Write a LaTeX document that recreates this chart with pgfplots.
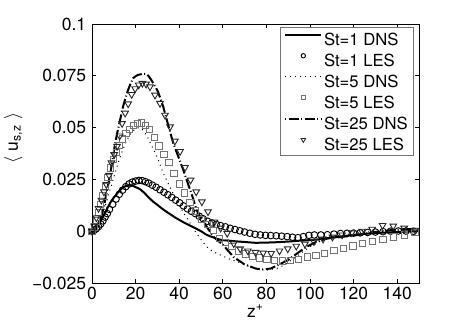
\documentclass[border=0pt]{standalone}
\usepackage{fontspec}
\setmainfont{TeX Gyre Heros}
\usepackage{pgfplots}
\pgfplotsset{compat=1.18}

\begin{document}
\begin{tikzpicture}
\useasboundingbox (-55.2pt,-26.4pt) rectangle (222.6pt,169.8pt);
\begin{axis}[
    scale only axis,
    width=196.2pt, height=155.4pt,
    xmin=0, xmax=150, ymin=-0.025, ymax=0.1,
    xtick={0,20,...,140},
    ytick={-0.025,0,0.025,0.05,0.075,0.1},
    yticklabels={−0.025,0,0.025,0.05,0.075,0.1},
    /pgf/number format/assume math mode=true,
    tick align=inside,
    major tick length=2.4pt,
    tick style={line width=0.4pt, black},
    axis line style={line width=0.5pt},
    ticklabel style={font=\fontsize{10.5}{12}\selectfont},
    xticklabel style={yshift=1pt},
    xlabel={z\textsuperscript{+}},
    xlabel style={font=\fontsize{10.5}{12}\selectfont, yshift=4pt},
    ylabel={$\langle$\ u\textsubscript{s,z}\ $\rangle$},
    every axis y label/.style={at={(ticklabel cs:0.56)}, rotate=90, anchor=south,
        font=\fontsize{10.5}{12}\selectfont, yshift=-1pt},
    legend cell align=left,
    legend style={at={(1,1)}, anchor=north east, xshift=-3pt, yshift=-2pt,
        draw=black!55, line width=0.5pt,
        font=\fontsize{10}{12}\selectfont,
        inner xsep=2.5pt, inner ysep=2.2pt,
        row sep=3.4pt,
        nodes={inner xsep=1pt, inner ysep=1pt, text height=7.2pt, text depth=0pt}},
]
% St=1 DNS
\addplot[black, line width=1.2pt, no markers,
    legend image code/.code={\draw[black,line width=1.2pt] (0pt,2.6pt) -- (21.6pt,2.6pt);}]
coordinates {
(0,0) (1,0.0003) (2,0.001) (3,0.0028) (4,0.005) (5,0.0068) (6,0.0088) (7,0.011)
(8,0.013) (9,0.0148) (10,0.0162) (11,0.0175) (12,0.0188) (13,0.02) (14,0.021)
(15,0.0216) (16,0.022) (17,0.0222) (18,0.0221) (19,0.0218) (20,0.0213) (22,0.0203)
(24,0.0185) (26,0.0163) (28,0.0143) (30,0.0127) (32,0.011) (34,0.0095) (36,0.0081)
(38,0.0067) (40,0.0055) (42,0.0043) (44,0.0032) (46,0.0022) (48,0.0011) (50,0)
(52,-0.0014) (54,-0.0024) (56,-0.0031) (58,-0.0039) (60,-0.0043) (63,-0.0046)
(66,-0.0049) (70,-0.0052) (75,-0.0056) (80,-0.0055) (85,-0.0053) (90,-0.005)
(95,-0.0046) (100,-0.0043) (105,-0.0038) (110,-0.0031) (115,-0.0025) (120,-0.0018)
(125,-0.0013) (130,-0.0009) (135,-0.0006) (140,-0.0004) (145,-0.0001) (150,0)
};
\addlegendentry{St=1 DNS}
% St=1 LES
\addplot[black, only marks, mark=o, mark size=2pt, mark options={line width=0.55pt},
    legend image code/.code={\draw[black,line width=0.5pt] plot[mark=o, mark size=1.3pt] coordinates {(10.8pt,2.6pt)};}]
coordinates {
(0,0) (1,0.0005) (2,0.0012) (3,0.0022) (4,0.0035) (5,0.005) (6,0.0068) (7,0.0085)
(8,0.0105) (9.5,0.013) (11,0.0155) (12.5,0.0178) (14,0.0198) (15.5,0.0215)
(17,0.0228) (18.5,0.0237) (20,0.0242) (21.5,0.0245) (23,0.0244) (24.5,0.0239)
(26,0.0232) (27.7,0.0222) (29.4,0.0212) (31.2,0.02) (33,0.0188) (34.8,0.0176)
(36.6,0.0163) (38.4,0.015) (40.2,0.0137) (42,0.0122) (43.8,0.0108) (45.6,0.0096)
(47.4,0.0085) (49.2,0.0072) (51,0.006) (53,0.0048) (55,0.004) (57,0.0033)
(59,0.0027) (61.2,0.0021) (63.4,0.0014) (65.6,0.0008) (67.8,0.0002) (70,-0.0004)
(72.4,-0.001) (74.8,-0.0015) (77.2,-0.0018) (79.6,-0.002) (82,-0.0021) (84.5,-0.0022)
(87,-0.0024) (89.5,-0.0026) (92,-0.0029) (94.5,-0.0031) (97,-0.0026) (99.5,-0.002)
(102,-0.0018) (105,-0.0018) (108,-0.0017) (111,-0.0014) (114,-0.0011) (117,-0.001)
(120,-0.0009) (123,-0.0008) (126.5,-0.0006) (130,-0.0004) (133.5,-0.0002)
(137,0) (140.5,0.0001) (144,0.0001) (147.5,0)
};
\addlegendentry{St=1 LES}
% St=5 DNS
\addplot[black, line width=0.6pt, dash pattern=on 0.6pt off 2.4pt, no markers,
    legend image code/.code={\draw[black,line width=0.6pt,dash pattern=on 0.6pt off 2.4pt] (0pt,2.6pt) -- (21.6pt,2.6pt);}]
coordinates {
(0,0) (2,0.002) (4,0.006) (6,0.012) (8,0.019) (10,0.026) (12,0.033) (14,0.039)
(16,0.044) (18,0.0475) (20,0.0495) (21.5,0.05) (23,0.0492) (25,0.0465) (27.5,0.041)
(30,0.0355) (32.7,0.028) (35,0.023) (37.5,0.0175) (40.4,0.0118) (42.5,0.008)
(44.2,0.0054) (46,0.002) (48,-0.001) (50,-0.004) (52.6,-0.0075) (55,-0.0095)
(57.2,-0.0107) (60,-0.012) (63.3,-0.0135) (66,-0.0145) (70,-0.0162) (75,-0.018)
(80,-0.0188) (84.7,-0.018) (88,-0.0165) (92,-0.0135) (96,-0.0105) (100,-0.0075)
(105,-0.0048) (110,-0.003) (115,-0.002) (120,-0.001) (130,0) (140,0.0005) (150,0)
};
\addlegendentry{St=5 DNS}
% St=5 LES
\addplot[black!55, only marks, mark=square, mark size=1.9pt, mark options={line width=0.6pt},
    legend image code/.code={\draw[black!55,line width=0.5pt] plot[mark=square, mark size=1.2pt] coordinates {(10.8pt,2.6pt)};}]
coordinates {
(0,0) (1,0.002) (2,0.005) (3,0.009) (4,0.013) (5,0.017) (6.2,0.0215) (7.4,0.026)
(8.6,0.0305) (9.8,0.0345) (11.2,0.038) (12.6,0.0415) (14,0.0445) (15.6,0.047)
(17.3,0.0492) (19,0.051) (20.8,0.052) (22.6,0.0522) (24.5,0.051) (26.5,0.049)
(28.6,0.0452) (30.8,0.0412) (33,0.037) (35.3,0.033) (37.6,0.0278) (40,0.0228)
(42.5,0.0185) (45,0.014) (47.6,0.0098) (50.2,0.0058) (52.9,0.0032) (55.6,0.0005)
(58.4,-0.0035) (61.2,-0.0055) (64.2,-0.0075) (67.2,-0.0095) (70.3,-0.011)
(73.5,-0.0122) (76.8,-0.013) (80.2,-0.0137) (83.7,-0.0142) (87.3,-0.0144)
(91,-0.014) (94.8,-0.0136) (98.7,-0.0125) (102.7,-0.0116) (106.8,-0.0107)
(111,-0.0094) (115.3,-0.0085) (119.7,-0.0072) (124.2,-0.006) (128.8,-0.005)
(133.5,-0.004) (138.3,-0.0028) (143.2,-0.0018) (148.2,-0.0006)
};
\addlegendentry{St=5 LES}
% St=25 DNS
\addplot[black, line width=1.2pt, dash pattern=on 6pt off 1.5pt on 0.6pt off 1.5pt, no markers,
    legend image code/.code={\draw[black,line width=1.2pt,dash pattern=on 0.6pt off 1.5pt on 6pt off 1.5pt] (0pt,2.6pt) -- (21.6pt,2.6pt);}]
coordinates {
(0,0) (1.2,0.0006) (2.5,0.003) (4.3,0.007) (5.5,0.012) (6.6,0.018) (7.8,0.0245)
(8.9,0.031) (10.4,0.041) (11.5,0.047) (12.7,0.0528) (14.2,0.06) (15.3,0.064)
(16.5,0.068) (17.6,0.071) (18.8,0.0738) (20,0.0748) (21,0.0754) (22.2,0.0757)
(23.4,0.0759) (24.9,0.0759) (26,0.0748) (27.2,0.073) (28.7,0.0703) (30.3,0.0673)
(32.7,0.06) (35,0.051) (37.3,0.0424) (39.6,0.036) (41.9,0.0295) (44,0.023)
(46,0.017) (48,0.0102) (50,0.0062) (52.6,0.0022) (56,-0.003) (60,-0.0065)
(65,-0.0125) (70,-0.016) (75,-0.018) (78,-0.0185) (82,-0.018) (86,-0.016)
(90,-0.0138) (94,-0.0108) (98,-0.0078) (103,-0.005) (108,-0.0035) (115,-0.0027)
(122,-0.0018) (132,0) (140,0.0008) (147,0.001) (150,0.0008)
};
\addlegendentry{St=25 DNS}
% St=25 LES
\addplot[black!85, only marks, mark=triangle, mark size=2.3pt, mark options={rotate=180, line width=0.55pt},
    legend image code/.code={\draw[black!85,line width=0.5pt] plot[mark=triangle, mark size=1.6pt, mark options={rotate=180}] coordinates {(10.8pt,2.6pt)};}]
coordinates {
(0,0) (1,0.0025) (2,0.0065) (3,0.011) (4.3,0.015) (5.5,0.019) (6.6,0.0225)
(7.8,0.027) (8.9,0.033) (10.2,0.037) (11.5,0.041) (12.7,0.046) (13.8,0.052)
(15.2,0.057) (16.6,0.0615) (18.2,0.066) (19.8,0.0688) (21.4,0.0706) (23.1,0.0714)
(24.8,0.071) (26.6,0.0697) (28.9,0.0657) (31.2,0.0617) (33.5,0.056) (35.8,0.0504)
(38,0.0435) (40.4,0.0385) (42.7,0.0308) (45.2,0.0247) (47.8,0.019) (50.4,0.0142)
(53.2,0.0094) (56.2,0.0045) (59,0.0015) (62,-0.001) (65,-0.006) (68,-0.0085)
(71.5,-0.0095) (75,-0.0102) (78.5,-0.0105) (82.2,-0.0107) (86,-0.0095)
(89.8,-0.0085) (93.7,-0.0072) (97.7,-0.0062) (101.8,-0.005) (106,-0.0038)
(110.3,-0.0028) (114.7,-0.0018) (119.2,-0.0008) (123.8,0) (128.5,0.001)
(133.3,0.0028) (138.2,0.0025) (143.2,0.0015) (148.2,0.0005)
};
\addlegendentry{St=25 LES}
\end{axis}
\end{tikzpicture}
\end{document}
